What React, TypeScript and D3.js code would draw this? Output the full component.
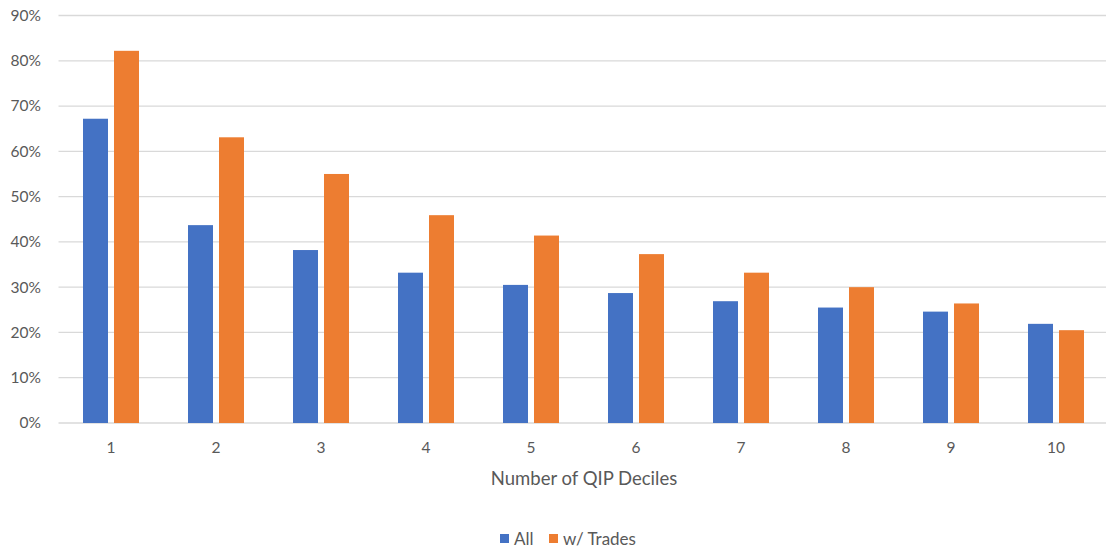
import React from "react";
import * as d3 from "d3";

const categories = ["1", "2", "3", "4", "5", "6", "7", "8", "9", "10"];
const seriesAll = [67.2, 43.7, 38.2, 33.2, 30.5, 28.7, 26.9, 25.5, 24.6, 21.9];
const seriesTrades = [82.2, 63.1, 55.0, 45.9, 41.4, 37.3, 33.2, 30.0, 26.4, 20.5];
const yTicks = [0, 10, 20, 30, 40, 50, 60, 70, 80, 90];
const seriesNames = ["All", "w/ Trades"];
const colors = ["#4472C4", "#ED7D31"];

const W = 1106;
const H = 550;
const left = 58.5;
const right = 1108.5;
const top = 15.5;
const bottom = 423;
const font = "Lato, 'Open Sans', sans-serif";

export default function App() {
  const x = d3.scaleBand<string>().domain(categories).range([left, right]).paddingInner(0).paddingOuter(0);
  const y = d3.scaleLinear().domain([0, 90]).range([bottom, top]);
  const barW = 25;
  const gap = 6;
  const groupW = barW * 2 + gap;
  const data = [seriesAll, seriesTrades];

  return (
    <svg width={W} height={H} style={{ position: "absolute", left: 0, top: 0, background: "#fff" }}>
      {yTicks.map((t) => (
        <g key={t}>
          <line x1={left} x2={W} y1={y(t)} y2={y(t)} stroke="#d9d9d9" strokeWidth={t === 0 ? 1.6 : 1.3} />
          <text x={41} y={y(t)} dy="0.35em" textAnchor="end" fontFamily={font} fontSize={15.5} fill="#595959">
            {t}%
          </text>
        </g>
      ))}
      {data.map((s, si) =>
        s.map((v, i) => {
          const cx = (x(categories[i]) as number) + x.bandwidth() / 2;
          const bx = cx - groupW / 2 + si * (barW + gap);
          return <rect key={si + "-" + i} x={bx} y={y(v)} width={barW} height={bottom - y(v)} fill={colors[si]} />;
        })
      )}
      {categories.map((c) => (
        <text key={c} x={(x(c) as number) + x.bandwidth() / 2} y={453} textAnchor="middle" fontFamily={font} fontSize={15.5} fill="#595959">
          {c}
        </text>
      ))}
      <text x={584} y={485} textAnchor="middle" fontFamily={font} fontSize={18.5} fill="#595959">
        Number of QIP Deciles
      </text>
      <g>
        <rect x={500} y={534} width={9} height={9} fill={colors[0]} />
        <text x={514} y={545} fontFamily={font} fontSize={17} fill="#595959">{seriesNames[0]}</text>
        <rect x={549} y={534} width={9} height={9} fill={colors[1]} />
        <text x={563} y={545} fontFamily={font} fontSize={17} fill="#595959">{seriesNames[1]}</text>
      </g>
    </svg>
  );
}
